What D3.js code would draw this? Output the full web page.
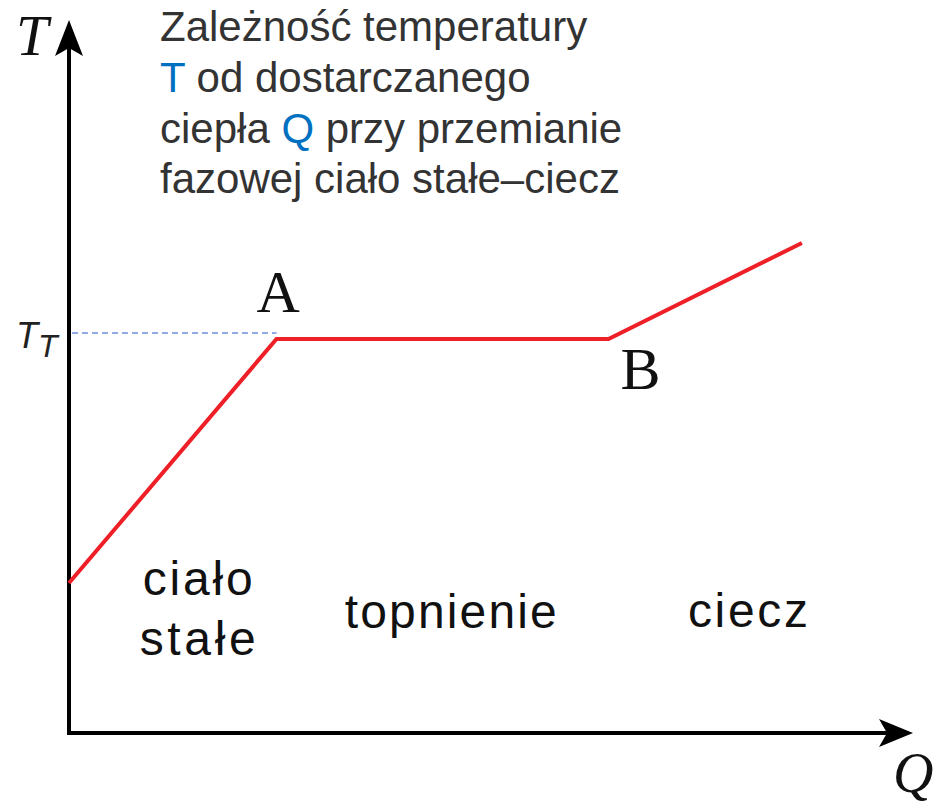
<!DOCTYPE html>
<html>
<head>
<meta charset="utf-8">
<script src="https://cdn.jsdelivr.net/npm/d3@7/dist/d3.min.js"></script>
<style>
  html, body { margin: 0; padding: 0; background: #fff; }
  svg { display: block; }
</style>
</head>
<body>
<svg id="chart" width="942" height="809"></svg>
<script>
// Heating curve: temperature T versus supplied heat Q (arbitrary units)
const heatQ = [0, 25, 65, 88.3];
const tempT = [30, 78.8, 78.8, 98];
const meltingT = 80;            // level of the T_T guide line
const pointLabels = ["A", "B"];
const pointIndex = [1, 2];
const regionLabels = [["ciało", "stałe"], ["topnienie"], ["ciecz"]];
const regionQ = [15.5, 46, 81.8];
const titleLines = [
  [["Zależność temperatury", false]],
  [["T", true], [" od dostarczanego", false]],
  [["ciepła ", false], ["Q", true], [" przy przemianie", false]],
  [["fazowej ciało stałe–ciecz", false]]
];

const svg = d3.select("#chart");
const x = d3.scaleLinear().domain([0, 100]).range([69, 899]);
const y = d3.scaleLinear().domain([0, 100]).range([733, 233]);

const serif = "'Liberation Serif', 'DejaVu Serif', serif";
const sans = "'Liberation Sans', Arial, sans-serif";

// Axes with arrowheads
const x0 = x(0), y0 = y(0);
svg.append("line").attr("x1", x0).attr("y1", y0 + 2).attr("x2", x0).attr("y2", 40)
  .attr("stroke", "#000").attr("stroke-width", 4);
svg.append("line").attr("x1", x0 - 2).attr("y1", y0).attr("x2", 895).attr("y2", y0)
  .attr("stroke", "#000").attr("stroke-width", 4);
svg.append("path")
  .attr("d", `M${x0},20 L${x0 + 14},56 L${x0},48 L${x0 - 14},56 Z`)
  .attr("fill", "#000");
svg.append("path")
  .attr("d", `M913,${y0} L879,${y0 + 14} L887,${y0} L879,${y0 - 14} Z`)
  .attr("fill", "#000");

// Axis names
svg.append("text").attr("x", 16).attr("y", 55)
  .attr("font-family", serif).attr("font-style", "italic").attr("font-size", 58)
  .attr("fill", "#111").text("T");
svg.append("text").attr("x", 893).attr("y", 792)
  .attr("font-family", serif).attr("font-style", "italic").attr("font-size", 56)
  .attr("fill", "#111").text("Q");

// T_T guide line and label
svg.append("line")
  .attr("x1", x0 + 3).attr("x2", x(heatQ[1]))
  .attr("y1", y(meltingT)).attr("y2", y(meltingT))
  .attr("stroke", "#6f8fdc").attr("stroke-width", 1.3)
  .attr("stroke-dasharray", "6,4");
const tt = svg.append("text").attr("x", 16).attr("y", 348)
  .attr("font-family", sans).attr("font-style", "italic").attr("font-size", 36)
  .attr("fill", "#222");
tt.append("tspan").text("T");
tt.append("tspan").attr("dy", 9).attr("font-size", 32).text("T");

// Heating curve
const pts = heatQ.map((q, i) => [q, tempT[i]]);
svg.append("path")
  .datum(pts)
  .attr("d", d3.line().x(d => x(d[0])).y(d => y(d[1])))
  .attr("fill", "none").attr("stroke", "#ee1f26").attr("stroke-width", 4)
  .attr("stroke-linejoin", "miter");

// Point labels A and B
svg.append("text").attr("x", x(heatQ[pointIndex[0]]) - 20).attr("y", y(tempT[pointIndex[0]]) - 27)
  .attr("font-family", serif).attr("font-size", 60).attr("fill", "#111").text(pointLabels[0]);
svg.append("text").attr("x", x(heatQ[pointIndex[1]]) + 12).attr("y", y(tempT[pointIndex[1]]) + 50)
  .attr("font-family", serif).attr("font-size", 60).attr("fill", "#111").text(pointLabels[1]);

// Region labels
const regionY = [[595, 655], [628], [627]];
const regionW = [[110, 116], [212], [120]];
regionLabels.forEach((lines, i) => {
  lines.forEach((line, j) => {
    svg.append("text")
      .attr("x", x(regionQ[i])).attr("y", regionY[i][j])
      .attr("text-anchor", "middle")
      .attr("font-family", sans).attr("font-size", 48).attr("fill", "#111")
      .attr("textLength", regionW[i][j]).attr("lengthAdjust", "spacing")
      .text(line);
  });
});

// Title block
const titleY = [41, 92, 143, 193];
titleLines.forEach((parts, i) => {
  const t = svg.append("text").attr("x", 160).attr("y", titleY[i])
    .attr("font-family", sans).attr("font-size", 42).attr("fill", "#333");
  parts.forEach(([s, hl]) => {
    t.append("tspan").attr("fill", hl ? "#0070c0" : "#333").text(s);
  });
});
</script>
</body>
</html>
